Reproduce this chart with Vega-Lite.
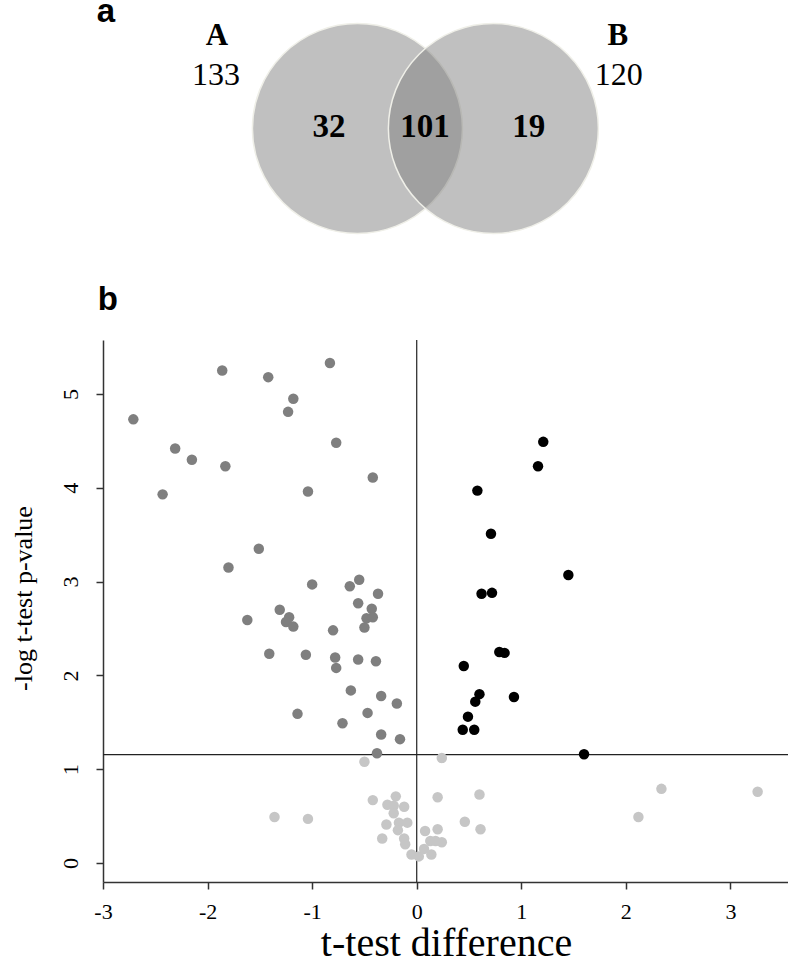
{
  "$schema": "https://vega.github.io/schema/vega-lite/v6.json",
  "background": "white",
  "padding": {"left": 9, "top": -4, "right": 0, "bottom": 0},
  "bounds": "flush",
  "spacing": 40,
  "config": {"view": {"stroke": null}, "font": "Liberation Serif"},
  "vconcat": [
    {
      "width": 686,
      "height": 300,
      "encoding": {
        "x": {"field": "x", "type": "quantitative", "scale": {"domain": [-3, 3.56], "nice": false, "zero": false}, "axis": null},
        "y": {"field": "y", "type": "quantitative", "scale": {"domain": [0, 3], "nice": false, "zero": false}, "axis": null}
      },
      "layer": [
        {
          "data": {"values": [{"set": "A", "x": -0.567, "y": 1.715}, {"set": "B", "x": 0.733, "y": 1.715}]},
          "mark": {"type": "point", "shape": "circle", "filled": true, "size": 44100, "color": "#7f7f7f", "opacity": 1, "fillOpacity": 0.49, "stroke": "#efefe8", "strokeWidth": 1.5, "strokeOpacity": 1}
        },
        {
          "data": {"values": [{"label": "a", "x": -2.971, "y": 2.78}, {"label": "b", "x": -2.955, "y": -0.1}]},
          "mark": {"type": "text", "font": "Liberation Sans", "fontWeight": "bold", "fontSize": 33, "align": "center", "baseline": "alphabetic", "color": "#000"},
          "encoding": {"text": {"field": "label"}}
        },
        {
          "data": {"values": [{"label": "A", "x": -1.91, "y": 2.55}, {"label": "B", "x": 1.924, "y": 2.55}]},
          "mark": {"type": "text", "font": "Liberation Serif", "fontWeight": "bold", "fontSize": 31, "align": "center", "baseline": "alphabetic", "color": "#000"},
          "encoding": {"text": {"field": "label"}}
        },
        {
          "data": {"values": [{"label": "133", "x": -1.92, "y": 2.15}, {"label": "120", "x": 1.933, "y": 2.15}]},
          "mark": {"type": "text", "font": "Liberation Serif", "fontSize": 32, "align": "center", "baseline": "alphabetic", "color": "#000"},
          "encoding": {"text": {"field": "label"}}
        },
        {
          "data": {"values": [{"label": "32", "x": -0.84, "y": 1.633}, {"label": "101", "x": 0.078, "y": 1.633}, {"label": "19", "x": 1.072, "y": 1.633}]},
          "mark": {"type": "text", "font": "Liberation Serif", "fontWeight": "bold", "fontSize": 33, "align": "center", "baseline": "alphabetic", "color": "#000"},
          "encoding": {"text": {"field": "label"}}
        }
      ]
    },
    {
      "width": 686,
      "height": 542,
      "layer": [
        {
          "data": {"values": [{"v": 0}]},
          "mark": {"type": "rule", "color": "#222", "strokeWidth": 1.2},
          "encoding": {"x": {"field": "v", "type": "quantitative", "scale": {"domain": [-3, 3.56], "nice": false, "zero": false},
            "axis": {"values": [-3, -2, -1, 0, 1, 2, 3], "labelExpr": "'' + datum.value", "title": "t-test difference", "titleFont": "Liberation Serif", "titleFontSize": 40, "titleFontWeight": "normal", "titleColor": "#000", "titlePadding": 1,
              "labelFont": "Liberation Serif", "labelFontSize": 22, "labelColor": "#000", "labelPadding": 12, "tickSize": 7, "tickColor": "#333", "tickWidth": 1.5, "domainColor": "#333", "domainWidth": 1.5, "grid": false, "labelFlush": false, "labelOverlap": false}}}
        },
        {
          "data": {"values": [{"h": 1.156}]},
          "mark": {"type": "rule", "color": "#222", "strokeWidth": 1.2},
          "encoding": {"y": {"field": "h", "type": "quantitative", "scale": {"domain": [-0.203, 5.576], "nice": false, "zero": false},
            "axis": {"values": [0, 1, 2, 3, 4, 5], "labelExpr": "'' + datum.value", "title": "-log t-test p-value", "titleFont": "Liberation Serif", "titleFontSize": 26, "titleFontWeight": "normal", "titleColor": "#000", "titlePadding": 23, "titleY": 258,
              "labelFont": "Liberation Serif", "labelFontSize": 22, "labelColor": "#000", "labelAngle": -90, "labelAlign": "center", "labelBaseline": "alphabetic", "labelPadding": 19, "tickSize": 7, "tickColor": "#333", "tickWidth": 1.5, "domainColor": "#333", "domainWidth": 1.5, "grid": false, "labelFlush": false, "labelOverlap": false}}}
        },
        {
          "data": {"values": [
            {"diff": -1.86, "p": 5.25, "group": "down"}, {"diff": -1.42, "p": 5.18, "group": "down"}, {"diff": -0.83, "p": 5.33, "group": "down"},
            {"diff": -1.18, "p": 4.95, "group": "down"}, {"diff": -1.23, "p": 4.81, "group": "down"}, {"diff": -2.71, "p": 4.73, "group": "down"},
            {"diff": -0.77, "p": 4.48, "group": "down"}, {"diff": -2.31, "p": 4.42, "group": "down"}, {"diff": -2.15, "p": 4.30, "group": "down"},
            {"diff": -1.83, "p": 4.23, "group": "down"}, {"diff": -0.42, "p": 4.11, "group": "down"}, {"diff": -2.43, "p": 3.93, "group": "down"},
            {"diff": -1.04, "p": 3.96, "group": "down"}, {"diff": -1.51, "p": 3.35, "group": "down"}, {"diff": -1.80, "p": 3.15, "group": "down"},
            {"diff": -1.00, "p": 2.97, "group": "down"}, {"diff": -0.55, "p": 3.02, "group": "down"}, {"diff": -0.64, "p": 2.95, "group": "down"},
            {"diff": -0.37, "p": 2.87, "group": "down"}, {"diff": -0.56, "p": 2.77, "group": "down"}, {"diff": -0.43, "p": 2.71, "group": "down"},
            {"diff": -1.31, "p": 2.70, "group": "down"}, {"diff": -1.62, "p": 2.59, "group": "down"}, {"diff": -1.22, "p": 2.62, "group": "down"},
            {"diff": -1.25, "p": 2.57, "group": "down"}, {"diff": -1.18, "p": 2.52, "group": "down"}, {"diff": -0.48, "p": 2.61, "group": "down"},
            {"diff": -0.42, "p": 2.62, "group": "down"}, {"diff": -0.80, "p": 2.48, "group": "down"}, {"diff": -0.50, "p": 2.51, "group": "down"},
            {"diff": -1.41, "p": 2.23, "group": "down"}, {"diff": -1.06, "p": 2.22, "group": "down"}, {"diff": -0.78, "p": 2.19, "group": "down"},
            {"diff": -0.77, "p": 2.08, "group": "down"}, {"diff": -0.56, "p": 2.17, "group": "down"}, {"diff": -0.39, "p": 2.15, "group": "down"},
            {"diff": -0.63, "p": 1.84, "group": "down"}, {"diff": -0.34, "p": 1.78, "group": "down"}, {"diff": -0.19, "p": 1.70, "group": "down"},
            {"diff": -1.14, "p": 1.59, "group": "down"}, {"diff": -0.47, "p": 1.60, "group": "down"}, {"diff": -0.71, "p": 1.49, "group": "down"},
            {"diff": -0.34, "p": 1.37, "group": "down"}, {"diff": -0.16, "p": 1.32, "group": "down"}, {"diff": -0.38, "p": 1.17, "group": "down"},
            {"diff": 1.21, "p": 4.49, "group": "up"}, {"diff": 1.16, "p": 4.23, "group": "up"}, {"diff": 0.58, "p": 3.97, "group": "up"},
            {"diff": 0.71, "p": 3.51, "group": "up"}, {"diff": 1.45, "p": 3.07, "group": "up"}, {"diff": 0.62, "p": 2.87, "group": "up"},
            {"diff": 0.72, "p": 2.88, "group": "up"}, {"diff": 0.79, "p": 2.25, "group": "up"}, {"diff": 0.84, "p": 2.24, "group": "up"},
            {"diff": 0.45, "p": 2.10, "group": "up"}, {"diff": 0.60, "p": 1.80, "group": "up"}, {"diff": 0.56, "p": 1.72, "group": "up"},
            {"diff": 0.93, "p": 1.77, "group": "up"}, {"diff": 0.49, "p": 1.56, "group": "up"}, {"diff": 0.44, "p": 1.42, "group": "up"},
            {"diff": 0.55, "p": 1.42, "group": "up"}, {"diff": 1.60, "p": 1.16, "group": "up"},
            {"diff": -0.50, "p": 1.08, "group": "ns"}, {"diff": 0.24, "p": 1.12, "group": "ns"}, {"diff": -0.42, "p": 0.67, "group": "ns"},
            {"diff": -0.20, "p": 0.71, "group": "ns"}, {"diff": -0.28, "p": 0.62, "group": "ns"}, {"diff": -0.22, "p": 0.61, "group": "ns"},
            {"diff": -0.12, "p": 0.60, "group": "ns"}, {"diff": -0.22, "p": 0.53, "group": "ns"}, {"diff": -1.36, "p": 0.49, "group": "ns"},
            {"diff": -1.04, "p": 0.47, "group": "ns"}, {"diff": -0.29, "p": 0.41, "group": "ns"}, {"diff": -0.17, "p": 0.43, "group": "ns"},
            {"diff": -0.09, "p": 0.43, "group": "ns"}, {"diff": -0.18, "p": 0.35, "group": "ns"}, {"diff": 0.08, "p": 0.34, "group": "ns"},
            {"diff": -0.33, "p": 0.26, "group": "ns"}, {"diff": -0.12, "p": 0.26, "group": "ns"}, {"diff": -0.11, "p": 0.20, "group": "ns"},
            {"diff": 0.13, "p": 0.235, "group": "ns"}, {"diff": 0.18, "p": 0.235, "group": "ns"}, {"diff": 0.24, "p": 0.22, "group": "ns"},
            {"diff": -0.05, "p": 0.09, "group": "ns"}, {"diff": 0.02, "p": 0.07, "group": "ns"}, {"diff": 0.07, "p": 0.15, "group": "ns"},
            {"diff": 0.14, "p": 0.09, "group": "ns"}, {"diff": 0.20, "p": 0.70, "group": "ns"}, {"diff": 0.60, "p": 0.73, "group": "ns"},
            {"diff": 0.20, "p": 0.36, "group": "ns"}, {"diff": 0.46, "p": 0.44, "group": "ns"}, {"diff": 0.61, "p": 0.36, "group": "ns"},
            {"diff": 2.34, "p": 0.79, "group": "ns"}, {"diff": 3.26, "p": 0.76, "group": "ns"}, {"diff": 2.12, "p": 0.49, "group": "ns"}
          ]},
          "mark": {"type": "point", "shape": "circle", "filled": true, "size": 110, "opacity": 1},
          "encoding": {
            "x": {"field": "diff", "type": "quantitative", "scale": {"domain": [-3, 3.56], "nice": false, "zero": false},
              "axis": {"values": [-3, -2, -1, 0, 1, 2, 3], "labelExpr": "'' + datum.value", "title": "t-test difference", "titleFont": "Liberation Serif", "titleFontSize": 40, "titleFontWeight": "normal", "titleColor": "#000", "titlePadding": 1,
                "labelFont": "Liberation Serif", "labelFontSize": 22, "labelColor": "#000", "labelPadding": 12, "tickSize": 7, "tickColor": "#333", "tickWidth": 1.5, "domainColor": "#333", "domainWidth": 1.5, "grid": false, "labelFlush": false, "labelOverlap": false}},
            "y": {"field": "p", "type": "quantitative", "scale": {"domain": [-0.203, 5.576], "nice": false, "zero": false},
              "axis": {"values": [0, 1, 2, 3, 4, 5], "labelExpr": "'' + datum.value", "title": "-log t-test p-value", "titleFont": "Liberation Serif", "titleFontSize": 26, "titleFontWeight": "normal", "titleColor": "#000", "titlePadding": 23, "titleY": 258,
                "labelFont": "Liberation Serif", "labelFontSize": 22, "labelColor": "#000", "labelAngle": -90, "labelAlign": "center", "labelBaseline": "alphabetic", "labelPadding": 19, "tickSize": 7, "tickColor": "#333", "tickWidth": 1.5, "domainColor": "#333", "domainWidth": 1.5, "grid": false, "labelFlush": false, "labelOverlap": false}},
            "color": {"field": "group", "type": "nominal", "scale": {"domain": ["down", "up", "ns"], "range": ["#7f7f7f", "#000000", "#c6c6c6"]}, "legend": null}
          }
        }
      ]
    }
  ]
}
